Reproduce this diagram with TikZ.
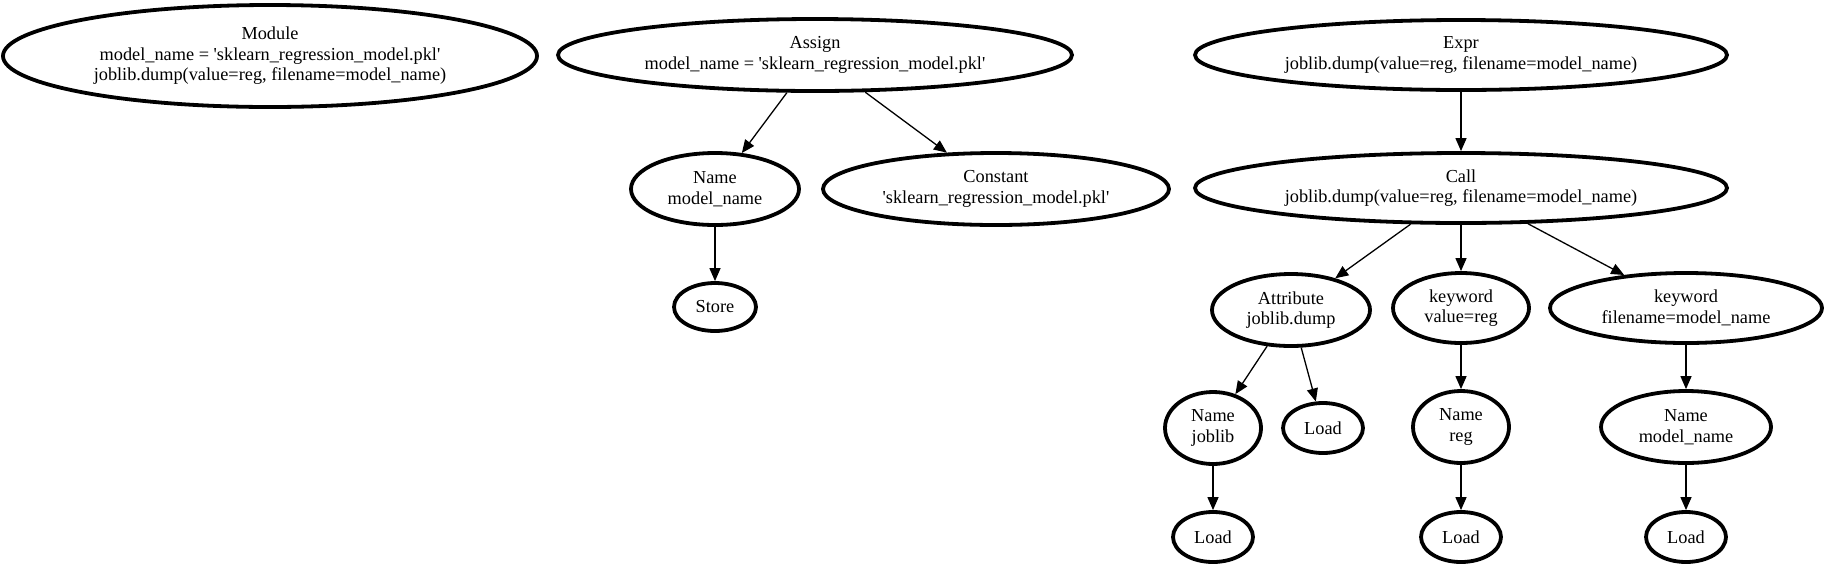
\documentclass[tikz,border=0pt]{standalone}
\usepackage{fontspec}
\setmainfont{Liberation Serif}
\usetikzlibrary{shapes.geometric,arrows.meta}
\tikzset{
  nd/.style={ellipse, draw=black, line width=3.8pt, inner sep=0pt, align=center,
    font=\fontsize{18.3}{20.5}\selectfont},
  edge/.style={draw=black, line width=1.3pt, -{Triangle[length=13pt,width=11pt]}}
}
\newcommand{\nd}[5]{\node[nd, minimum width=#3pt, minimum height=#4pt] (#1) at #2 {#5};}
\newcommand{\sq}{\textquotesingle}
\begin{document}
\begin{tikzpicture}[x=1pt,y=-1pt]
\useasboundingbox (0,0) rectangle (1826,566);
\nd{module}{(270,56)}{534}{102}{Module\\model\_name = \sq sklearn\_regression\_model.pkl\sq\\joblib.dump(value=reg, filename=model\_name)}
\nd{assign}{(815,55)}{514}{72}{Assign\\model\_name = \sq sklearn\_regression\_model.pkl\sq}
\nd{expr}{(1461,55)}{532}{70}{Expr\\joblib.dump(value=reg, filename=model\_name)}
\nd{namemn}{(715,189)}{168}{72}{Name\\model\_name}
\nd{const}{(996,189)}{346}{72}{Constant\\\sq sklearn\_regression\_model.pkl\sq}
\nd{call}{(1461,188)}{532}{70}{Call\\joblib.dump(value=reg, filename=model\_name)}
\nd{store}{(715,307)}{82}{48}{Store}
\nd{attr}{(1291,310)}{158}{72}{Attribute\\joblib.dump}
\nd{kwval}{(1461,308)}{136}{70}{keyword\\value=reg}
\nd{kwfile}{(1686,308)}{272}{70}{keyword\\filename=model\_name}
\nd{namejob}{(1213,428)}{96}{72}{Name\\joblib}
\nd{loada}{(1323,428)}{80}{50}{Load}
\nd{namereg}{(1461,427)}{96}{72}{Name\\reg}
\nd{namemn2}{(1686,427)}{170}{72}{Name\\model\_name}
\nd{loadb}{(1213,537)}{80}{50}{Load}
\nd{loadc}{(1461,537)}{80}{50}{Load}
\nd{loadd}{(1686,537)}{80}{50}{Load}
\draw[edge] (assign) -- (namemn);
\draw[edge] (assign) -- (const);
\draw[edge] (namemn) -- (store);
\draw[edge] (expr) -- (call);
\draw[edge] (call) -- (attr);
\draw[edge] (call) -- (kwval);
\draw[edge] (call) -- (kwfile);
\draw[edge] (attr) -- (namejob);
\draw[edge] (attr) -- (loada);
\draw[edge] (kwval) -- (namereg);
\draw[edge] (kwfile) -- (namemn2);
\draw[edge] (namejob) -- (loadb);
\draw[edge] (namereg) -- (loadc);
\draw[edge] (namemn2) -- (loadd);
\end{tikzpicture}
\end{document}
